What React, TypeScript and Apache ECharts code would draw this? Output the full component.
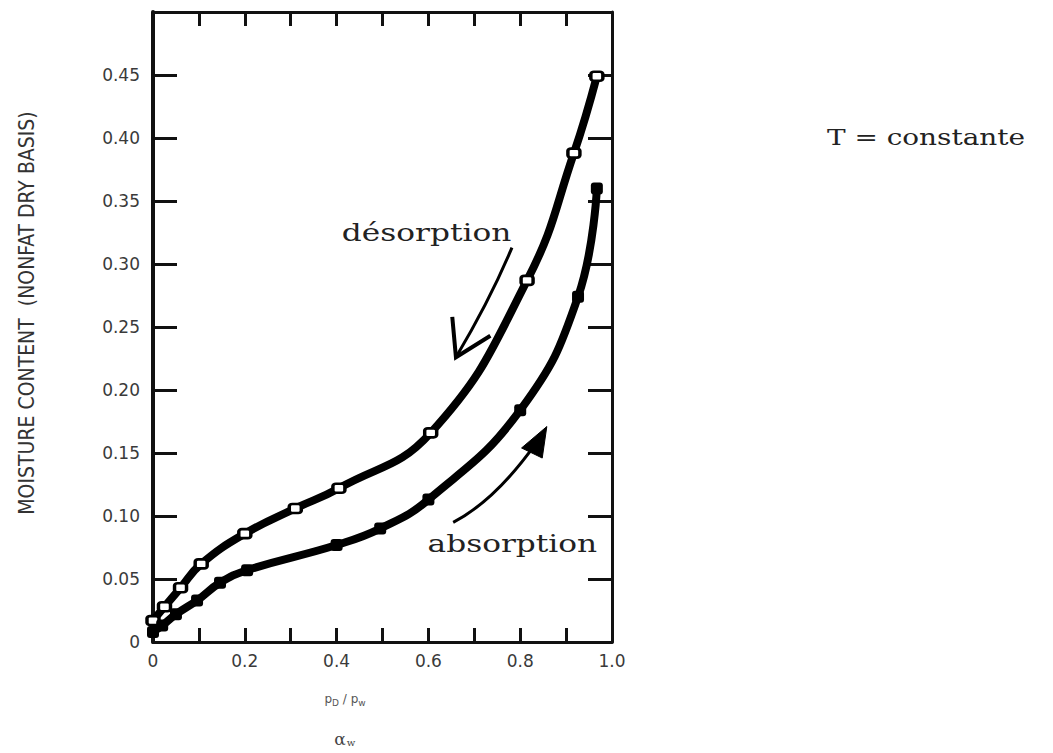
import React, { useEffect, useRef } from "react";
import * as echarts from "echarts";

// ---- data ----
const desorptionAw = [0, 0.025, 0.06, 0.105, 0.2, 0.31, 0.405, 0.605, 0.815, 0.917, 0.967];
const desorptionMoisture = [0.017, 0.028, 0.043, 0.062, 0.086, 0.106, 0.122, 0.166, 0.287, 0.388, 0.449];
const absorptionAw = [0, 0.02, 0.05, 0.096, 0.146, 0.205, 0.4, 0.495, 0.6, 0.8, 0.926, 0.967];
const absorptionMoisture = [0.008, 0.013, 0.022, 0.033, 0.047, 0.057, 0.077, 0.09, 0.113, 0.184, 0.274, 0.36];
const xTickLabels = ["0", "0.2", "0.4", "0.6", "0.8", "1.0"];
const yTickLabels = ["0", "0.05", "0.10", "0.15", "0.20", "0.25", "0.30", "0.35", "0.40", "0.45"];

const yAxisTitle = "MOISTURE CONTENT  (NONFAT DRY BASIS)";
const desorptionLabel = "désorption";
const absorptionLabel = "absorption";
const conditionLabel = "T = constante";

// annotation anchors in data coordinates [aw, moisture]
const desArrowStart = [0.782, 0.313];
const desArrowCtrl = [0.735, 0.272];
const desArrowEnd = [0.66, 0.226];
const desArrowArmA = [0.652, 0.258];
const desArrowArmB = [0.735, 0.243];
const absArrowStart = [0.654, 0.095];
const absArrowCtrl = [0.745, 0.112];
const absArrowEnd = [0.835, 0.158];
const absHeadTip = [0.858, 0.171];
const absHeadA = [0.803, 0.154];
const absHeadB = [0.848, 0.146];
const desLabelAt = [0.596, 0.325];
const absLabelAt = [0.783, 0.078];
const condLabelAt = [1.684, 0.4];
const awLabelAt = [0.418, -0.077];

const INK = "#111";

export default function App() {
  const ref = useRef<HTMLDivElement>(null);
  useEffect(() => {
    const chart = echarts.init(ref.current!, null, { renderer: "svg" });
    const tickFont = {
      fontFamily: "'DejaVu Sans', sans-serif",
      fontSize: 17,
      color: "#3a3a3a",
    };
    const xAxisBase = {
      type: "value",
      min: 0,
      max: 1,
      interval: 0.1,
      splitLine: { show: false },
      axisLine: { show: true, onZero: false, lineStyle: { color: INK, width: 3 } },
      axisTick: { show: true, inside: true, length: 14, lineStyle: { color: INK, width: 3 } },
    };
    const yAxisBase = {
      type: "value",
      min: 0,
      max: 0.5,
      interval: 0.05,
      splitLine: { show: false },
      axisLine: { show: true, onZero: false, lineStyle: { color: INK, width: 4 } },
      axisTick: { show: true, inside: true, length: 24, lineStyle: { color: INK, width: 3 } },
    };
    chart.setOption({
      animation: false,
      backgroundColor: "#ffffff",
      grid: {
        left: 153,
        right: 441,
        top: 12,
        bottom: 111,
        containLabel: false,
        outerBoundsMode: "none",
      },
      xAxis: [
        {
          ...xAxisBase,
          position: "bottom",
          axisLabel: {
            ...tickFont,
            margin: 10,
            formatter: (v: number) => {
              const k = Math.round(v * 10);
              return k % 2 === 0 ? xTickLabels[k / 2] : "";
            },
          },
          name: "{n|p}{s|D}{n| / p}{s|w}",
          nameLocation: "middle",
          nameGap: 48,
          nameTextStyle: {
            padding: [0, 75, 0, 0],
            rich: {
              n: { fontFamily: "'DejaVu Sans', sans-serif", fontSize: 12, color: "#555" },
              s: { fontFamily: "'DejaVu Sans', sans-serif", fontSize: 9, color: "#555", padding: [8, 0, 0, 0] },
            },
          },
        },
        {
          ...xAxisBase,
          position: "top",
          axisLabel: { show: false },
        },
      ],
      yAxis: [
        {
          ...yAxisBase,
          position: "left",
          axisLabel: {
            ...tickFont,
            margin: 13,
            formatter: (v: number) => {
              const k = Math.round(v * 20);
              return k < yTickLabels.length ? yTickLabels[k] : "";
            },
          },
          name: yAxisTitle,
          nameLocation: "middle",
          nameGap: 116,
          nameTextStyle: {
            fontFamily: "'Liberation Sans Narrow', 'DejaVu Sans Condensed', 'Roboto', sans-serif",
            fontSize: 21,
            color: "#333",
            padding: [0, 0, 0, 28],
          },
        },
        {
          ...yAxisBase,
          position: "right",
          axisLine: { show: true, onZero: false, lineStyle: { color: INK, width: 3 } },
          axisLabel: { show: false },
        },
      ],
      series: [
        {
          name: desorptionLabel,
          type: "line",
          smooth: 0.45,
          data: desorptionAw.map((x, i) => [x, desorptionMoisture[i]]),
          symbol: "roundRect",
          symbolSize: [12, 9],
          itemStyle: { color: "#ffffff", borderColor: "#000", borderWidth: 3 },
          lineStyle: { color: "#000", width: 8, cap: "round", join: "round" },
          z: 3,
        },
        {
          name: absorptionLabel,
          type: "line",
          smooth: 0.45,
          data: absorptionAw.map((x, i) => [x, absorptionMoisture[i]]),
          symbol: "roundRect",
          symbolSize: 12,
          itemStyle: { color: "#000" },
          lineStyle: { color: "#000", width: 8, cap: "round", join: "round" },
          z: 3,
        },
      ],
    });

    const p = (v: number[]) => chart.convertToPixel({ seriesIndex: 0 }, v) as number[];
    const serif = "'DejaVu Serif', 'Liberation Serif', serif";
    const ds = p(desArrowStart), dc = p(desArrowCtrl), de = p(desArrowEnd);
    const da = p(desArrowArmA), db = p(desArrowArmB);
    const as = p(absArrowStart), ac = p(absArrowCtrl), ae = p(absArrowEnd);
    const at = p(absHeadTip), aa = p(absHeadA), ab = p(absHeadB);
    const dl = p(desLabelAt), al = p(absLabelAt), cl = p(condLabelAt), wl = p(awLabelAt);

    chart.setOption({
      graphic: [
        {
          type: "bezierCurve",
          shape: { x1: ds[0], y1: ds[1], cpx1: dc[0], cpy1: dc[1], x2: de[0], y2: de[1] },
          style: { stroke: "#000", lineWidth: 3, fill: null },
          z: 10,
        },
        {
          type: "polyline",
          shape: { points: [da, de, db] },
          style: { stroke: "#000", lineWidth: 4, fill: null },
          z: 10,
        },
        {
          type: "bezierCurve",
          shape: { x1: as[0], y1: as[1], cpx1: ac[0], cpy1: ac[1], x2: ae[0], y2: ae[1] },
          style: { stroke: "#000", lineWidth: 3, fill: null },
          z: 10,
        },
        {
          type: "polygon",
          shape: { points: [at, aa, ab] },
          style: { fill: "#000", stroke: "#000", lineWidth: 1 },
          z: 10,
        },
        {
          type: "text",
          x: dl[0],
          y: dl[1],
          scaleX: 1.3,
          style: { text: desorptionLabel, font: `24px ${serif}`, fill: "#222", align: "center", verticalAlign: "middle" },
          z: 10,
        },
        {
          type: "text",
          x: al[0],
          y: al[1],
          scaleX: 1.3,
          style: { text: absorptionLabel, font: `24px ${serif}`, fill: "#222", align: "center", verticalAlign: "middle" },
          z: 10,
        },
        {
          type: "text",
          x: cl[0],
          y: cl[1],
          scaleX: 1.27,
          style: { text: conditionLabel, font: `22px ${serif}`, fill: "#222", align: "center", verticalAlign: "middle" },
          z: 10,
        },
        {
          type: "text",
          x: wl[0],
          y: wl[1],
          style: {
            text: "{a|α}{w|w}",
            align: "center",
            verticalAlign: "middle",
            rich: {
              a: { fontFamily: serif, fontSize: 17, fill: "#444" },
              w: { fontFamily: serif, fontSize: 10, fill: "#444", padding: [6, 0, 0, 1] },
            },
          },
          z: 10,
        },
      ],
    });
    return () => chart.dispose();
  }, []);
  return (
    <div
      ref={ref}
      style={{ position: "fixed", left: 0, top: 0, width: 1053, height: 753, background: "#fff" }}
    />
  );
}
